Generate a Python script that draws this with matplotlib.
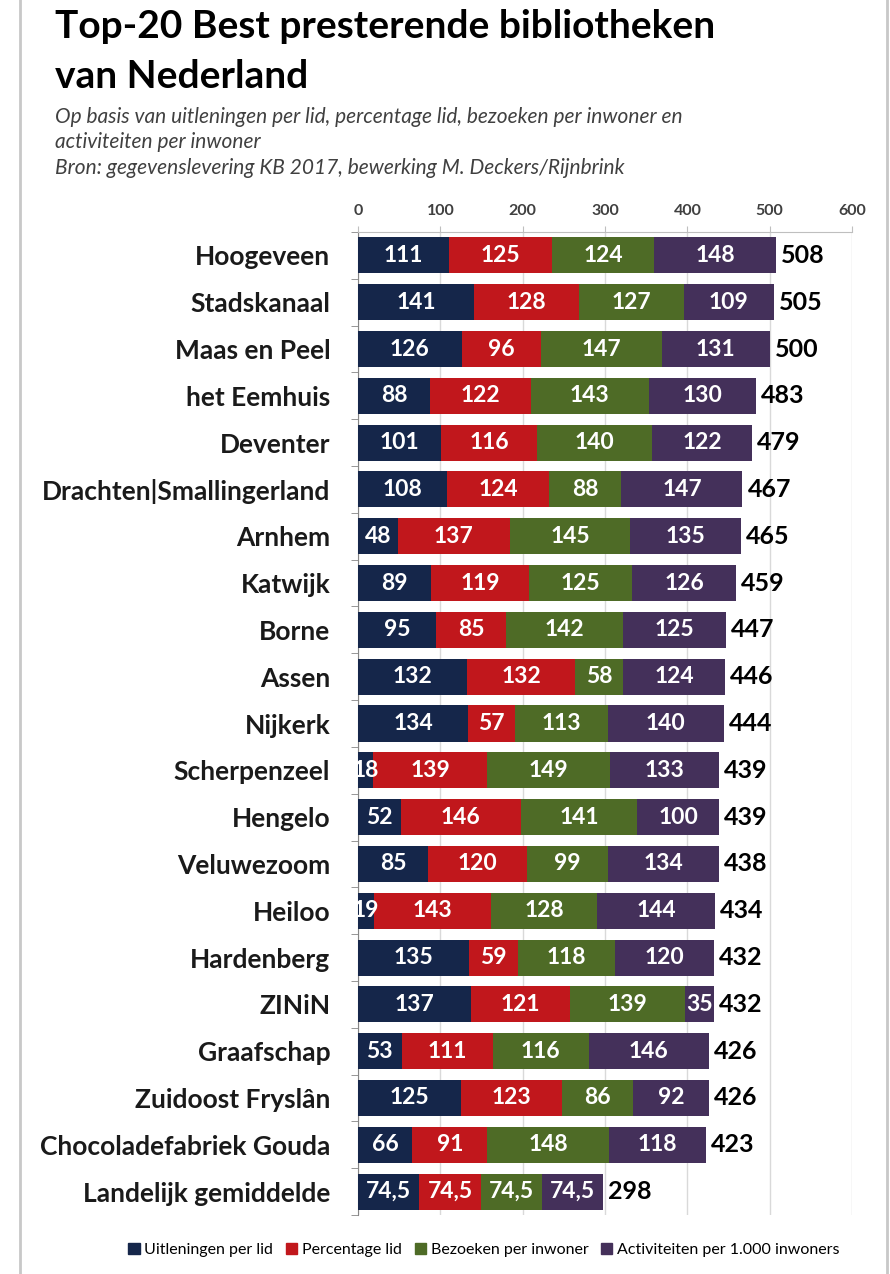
import numpy as np
import matplotlib
matplotlib.use('Agg')
import matplotlib.pyplot as plt
from matplotlib.patches import Patch, Rectangle

plt.rcParams['font.family'] = ['Lato', 'DejaVu Sans']

libraries = ['Hoogeveen', 'Stadskanaal', 'Maas en Peel', 'het Eemhuis', 'Deventer',
             'Drachten|Smallingerland', 'Arnhem', 'Katwijk', 'Borne', 'Assen',
             'Nijkerk', 'Scherpenzeel', 'Hengelo', 'Veluwezoom', 'Heiloo',
             'Hardenberg', 'ZINiN', 'Graafschap', 'Zuidoost Fryslân',
             'Chocoladefabriek Gouda', 'Landelijk gemiddelde']
uitleningen = [111, 141, 126, 88, 101, 108, 48, 89, 95, 132, 134, 18, 52, 85, 19, 135, 137, 53, 125, 66, 74.5]
percentage = [125, 128, 96, 122, 116, 124, 137, 119, 85, 132, 57, 139, 146, 120, 143, 59, 121, 111, 123, 91, 74.5]
bezoeken = [124, 127, 147, 143, 140, 88, 145, 125, 142, 58, 113, 149, 141, 99, 128, 118, 139, 116, 86, 148, 74.5]
activiteiten = [148, 109, 131, 130, 122, 147, 135, 126, 125, 124, 140, 133, 100, 134, 144, 120, 35, 146, 92, 118, 74.5]
series_names = ['Uitleningen per lid', 'Percentage lid', 'Bezoeken per inwoner',
                'Activiteiten per 1.000 inwoners']
colors = ['#15264a', '#c1171c', '#4e6b26', '#44305a']

def fmt(v):
    if float(v).is_integer():
        return str(int(v))
    return ('%.1f' % v).replace('.', ',')

fig = plt.figure(figsize=(8.9, 12.74), dpi=100)
ax = fig.add_axes([358/890, 1 - 1215/1274, (852-358)/890, (1215-232)/1274])

y = np.arange(len(libraries))
left = np.zeros(len(libraries))
for vals, col in zip([uitleningen, percentage, bezoeken, activiteiten], colors):
    vals = np.array(vals, dtype=float)
    ax.barh(y, vals, left=left, height=0.77, color=col, zorder=3)
    for yi, l, v in zip(y, left, vals):
        ax.text(l + v/2, yi, fmt(v), ha='center', va='center', color='white',
                fontsize=16.5, fontweight='bold', zorder=4)
    left += vals

for yi, tot in zip(y, left):
    ax.text(tot + 6, yi, fmt(tot), ha='left', va='center', color='black',
            fontsize=18, fontweight='bold', zorder=4)

ax.set_xlim(0, 600)
ax.set_ylim(len(libraries) - 0.5, -0.5)
ax.set_xticks(np.arange(0, 601, 100))
ax.xaxis.tick_top()
ax.tick_params(axis='x', colors='#bfbfbf', labelcolor='#404040', labelsize=11.5,
               length=4, pad=6)
for lab in ax.get_xticklabels():
    lab.set_fontweight('bold')
ax.grid(axis='x', color='#d9d9d9', lw=1, zorder=0)

ax.set_yticks(y)
ax.set_yticklabels(libraries, fontsize=19, fontweight='bold', color='#1a1a1a')
ax.set_yticks(np.arange(-0.5, len(libraries), 1), minor=True)
ax.tick_params(axis='y', which='major', length=0, pad=20)
ax.tick_params(axis='y', which='minor', length=5, color='#868686')

for s in ['right', 'bottom']:
    ax.spines[s].set_visible(False)
ax.spines['left'].set_color('#868686')
ax.spines['top'].set_color('#bfbfbf')

fig.text(55/890, 1 - 27/1274, 'Top-20 Best presterende bibliotheken', fontsize=28,
         fontweight='bold', va='center', ha='left', color='black')
fig.text(55/890, 1 - 77/1274, 'van Nederland', fontsize=28,
         fontweight='bold', va='center', ha='left', color='black')
subtitle = ['Op basis van uitleningen per lid, percentage lid, bezoeken per inwoner en',
            'activiteiten per inwoner',
            'Bron: gegevenslevering KB 2017, bewerking M. Deckers/Rijnbrink']
for i, line in enumerate(subtitle):
    fig.text(55/890, 1 - (117 + 25.5*i)/1274, line, fontsize=15, style='italic',
             va='center', ha='left', color='#404040')

handles = [Patch(color=c) for c in colors]
fig.legend(handles, series_names, loc='center', ncol=4,
           bbox_to_anchor=(484/890, 1 - 1250/1274), frameon=False, fontsize=11.5,
           handlelength=0.7, handleheight=0.7, handletextpad=0.3, columnspacing=0.8)

fig.patches.append(Rectangle((20/890, -0.01), 867/890, 1.02, transform=fig.transFigure,
                             fill=False, edgecolor='#c8c8c8', lw=2))

fig.savefig('out.png', dpi=100)
